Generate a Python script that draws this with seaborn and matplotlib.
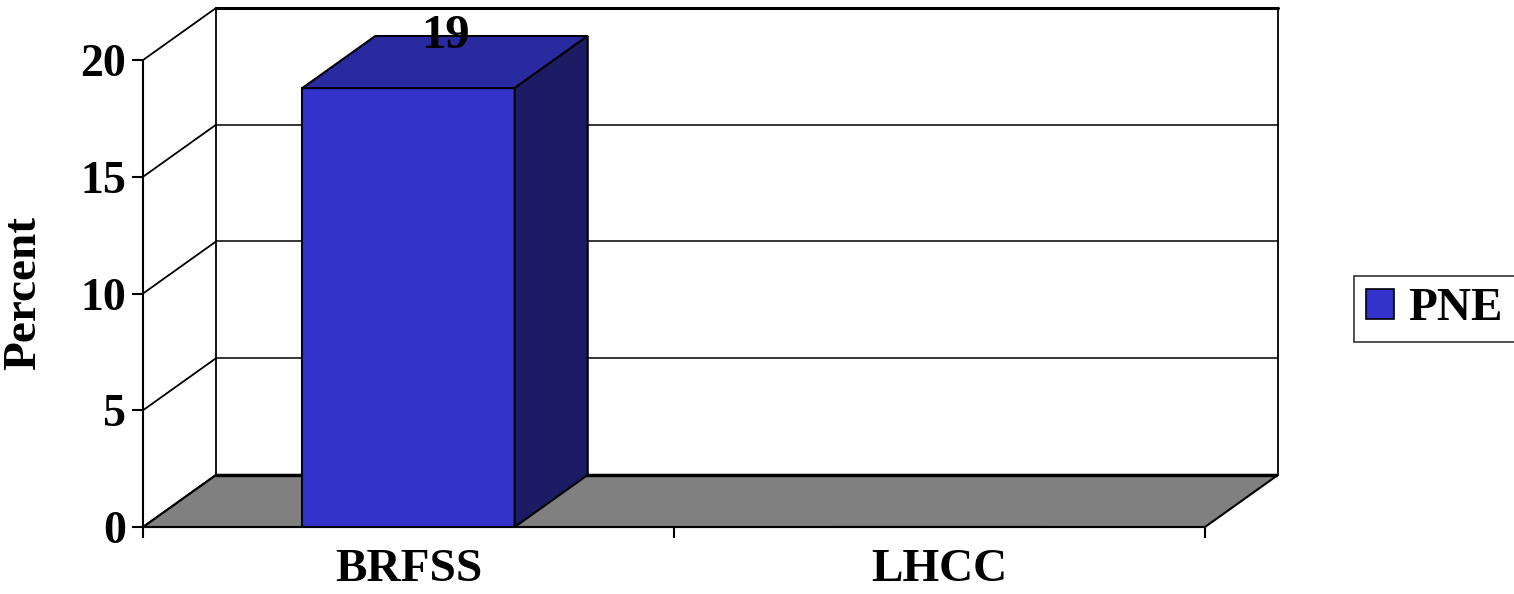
import matplotlib
matplotlib.use('Agg')
import matplotlib.pyplot as plt
import seaborn as sns
from matplotlib.patches import Polygon, Patch

# data
categories = ['BRFSS', 'LHCC']
values = [18.8, 0]
value_labels = ['19', '']
series_name = 'PNE'
yticks = [0, 5, 10, 15, 20]

front_color = '#3333CC'
top_color = '#2929A0'
side_color = '#1C1C64'
floor_color = '#808080'

# depth of the fake 3d box in data units
dx = 0.1375
dy = 2.23
bar_width = 0.4

sns.set_style('white')
plt.rcParams['font.family'] = ['Liberation Serif', 'DejaVu Serif']
plt.rcParams['font.weight'] = 'bold'
plt.rcParams['text.color'] = 'black'
plt.rcParams['axes.labelcolor'] = 'black'
plt.rcParams['xtick.color'] = 'black'
plt.rcParams['ytick.color'] = 'black'

fig = plt.figure(figsize=(15.14, 5.94), dpi=100)
ax = fig.add_axes([143 / 1514, 67 / 594, 1135 / 1514, 519 / 594])

# front faces
sns.barplot(x=categories, y=values, color=front_color, width=bar_width,
            edgecolor='black', linewidth=1.5, saturation=1, ax=ax)
for p in ax.patches:
    p.set_zorder(3)

x0, x1 = -0.5, len(categories) - 0.5
top = yticks[-1]

# back wall
ax.add_patch(Polygon([(x0 + dx, dy), (x1 + dx, dy), (x1 + dx, top + dy), (x0 + dx, top + dy)],
                     closed=True, facecolor='white', edgecolor='black', lw=1.3, zorder=0.5, clip_on=False))
for t in yticks[1:-1]:
    ax.plot([x0 + dx, x1 + dx], [t + dy, t + dy], color='black', lw=1.1, zorder=0.7)
ax.plot([x0 + dx, x1 + dx], [top + dy, top + dy], color='black', lw=2.2, zorder=0.8, clip_on=False)

# floor
ax.add_patch(Polygon([(x0, 0), (x1, 0), (x1 + dx, dy), (x0 + dx, dy)],
                     closed=True, facecolor=floor_color, edgecolor='black', lw=1.5, zorder=1, clip_on=False))
ax.plot([x0 + dx, x1 + dx], [dy, dy], color='black', lw=2.4, zorder=1.1)

# left wall diagonals
for t in yticks:
    ax.plot([x0, x0 + dx], [t, t + dy], color='black', lw=1.3, zorder=1.2, clip_on=False)

# front axis lines
ax.plot([x0, x0], [0, top], color='black', lw=1.5, zorder=4, clip_on=False)
ax.plot([x0, x1], [0, 0], color='black', lw=1.5, zorder=4, clip_on=False)

# top and side faces of the bars
for i, v in enumerate(values):
    if v <= 0:
        continue
    l, r = i - bar_width / 2, i + bar_width / 2
    ax.add_patch(Polygon([(l, v), (r, v), (r + dx, v + dy), (l + dx, v + dy)],
                         closed=True, facecolor=top_color, edgecolor='black', lw=1.5, zorder=3))
    ax.add_patch(Polygon([(r, 0), (r + dx, dy), (r + dx, v + dy), (r, v)],
                         closed=True, facecolor=side_color, edgecolor='black', lw=1.5, zorder=3))
    ax.text(i + dx / 2, v + dy, value_labels[i], ha='center', va='center',
            fontsize=35, fontweight='bold', color='black', zorder=5)

ax.set_xlim(x0, x1 + dx)
ax.set_ylim(0, top + dy)
sns.despine(ax=ax, left=True, bottom=True)

ax.set_yticks(yticks)
ax.set_yticklabels([str(t) for t in yticks], fontsize=33, fontweight='bold')
ax.tick_params(axis='y', direction='out', length=8, width=1.5, pad=4, left=True)

ax.set_xticks(range(len(categories)))
ax.set_xticklabels(categories, fontsize=34, fontweight='bold')
ax.set_xticks([x0 + k for k in range(len(categories) + 1)], minor=True)
ax.tick_params(axis='x', which='major', length=0, pad=16)
ax.tick_params(axis='x', which='minor', direction='out', length=8, width=1.5, bottom=True)

ax.set_xlabel('')
ax.set_ylabel('Percent', fontsize=34, fontweight='bold')
ax.yaxis.set_label_coords(-0.086, 0.45)

handles = [Patch(facecolor=front_color, edgecolor='black', lw=1.2, label=series_name)]
leg = fig.legend(handles=handles, loc='lower left', bbox_to_anchor=(1354 / 1514, 252 / 594),
                 borderaxespad=0, frameon=True, fancybox=False, edgecolor='black',
                 prop={'size': 34, 'weight': 'bold'}, handlelength=0.6, handleheight=0.6,
                 handletextpad=0.3, borderpad=0.25)
leg.get_frame().set_linewidth(1.2)

fig.savefig('out.png', dpi=100)
